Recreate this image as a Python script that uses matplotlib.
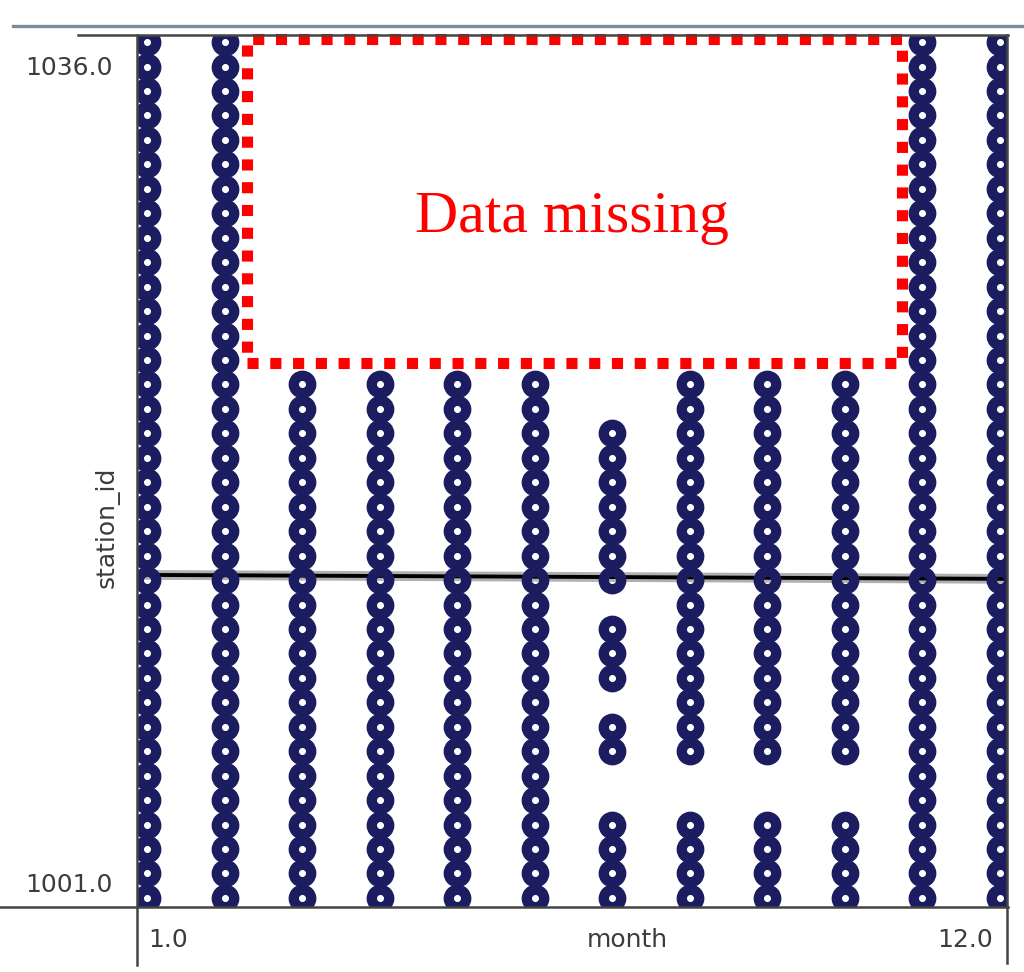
import numpy as np
import matplotlib
matplotlib.use("Agg")
import matplotlib.pyplot as plt
from matplotlib.lines import Line2D
from matplotlib.patches import Rectangle

# months on the x axis and the station runs that have data in each month
months = [1, 2, 3, 4, 5, 6, 7, 8, 9, 10, 11, 12]
station_runs = [
    [(1001, 1036)],
    [(1001, 1036)],
    [(1001, 1022)],
    [(1001, 1022)],
    [(1001, 1022)],
    [(1001, 1022)],
    [(1001, 1004), (1007, 1008), (1010, 1012), (1014, 1020)],
    [(1001, 1004), (1007, 1022)],
    [(1001, 1004), (1007, 1022)],
    [(1001, 1004), (1007, 1022)],
    [(1001, 1036)],
    [(1001, 1036)],
]
# fitted trend line (station_id vs month)
fit_months = [1, 12]
fit_station = [1014.21, 1014.05]
# region with no data
missing_box = {"month": (2.29, 10.74), "station": (1022.86, 1036.12)}
y_tick_labels = ["1036.0", "1001.0"]
x_tick_labels = ["1.0", "12.0"]

W, H = 1024, 972
navy = "#1c1c60"
txt = "#3c3c3c"

fig = plt.figure(figsize=(W / 100, H / 100), dpi=100)
ax = fig.add_axes([137 / W, 1 - 907 / H, (1007 - 137) / W, (907 - 35) / H])
ax.set_xlim(0.871, 12.09)
ax.set_ylim(1000.63, 1036.29)
ax.axis("off")

# trend line with grey halo, under the markers
slope = (fit_station[1] - fit_station[0]) / (fit_months[1] - fit_months[0])
xs = np.array(ax.get_xlim())
ys = fit_station[0] + slope * (xs - fit_months[0])
ax.plot(xs, ys, color="#b0b0b0", lw=7, solid_capstyle="butt", zorder=1)
ax.plot(xs, ys, color="black", lw=2.8, solid_capstyle="butt", zorder=2)

for m, runs in zip(months, station_runs):
    st = []
    for a, b in runs:
        st.extend(range(a, b + 1))
    ax.plot([m] * len(st), st, linestyle="none", marker="o", ms=12.6,
            mfc="none", mec=navy, mew=7.4, zorder=3)

x0, x1 = missing_box["month"]
y0, y1 = missing_box["station"]
ax.add_patch(Rectangle((x0, y0), x1 - x0, y1 - y0, fill=False, edgecolor="#ff0000",
                       lw=8, linestyle=(0, (1.0, 1.05)), zorder=4, clip_on=False))
ax.text((x0 + x1) / 2 - 0.03, 1028.25, "Data missing", color="#ff0000",
        family="Liberation Serif", fontsize=43, ha="center", va="baseline", zorder=5)

# frame lines in pixel positions
def fline(xp, yp, color, lw):
    fig.add_artist(Line2D([x / W for x in xp], [1 - y / H for y in yp],
                          transform=fig.transFigure, color=color, lw=lw))

fline([13, 1024], [26, 26], "#7d8b98", 2.4)
fline([78, 1008], [35, 35], "#444444", 1.8)
fline([0, 1008], [907, 907], "#444444", 1.8)
fline([137, 137], [35, 965], "#444444", 1.8)
fline([1007, 1007], [35, 963], "#444444", 1.8)

def ftext(x, y, s, **kw):
    fig.text(x / W, 1 - y / H, s, color=txt, family="DejaVu Sans", **kw)

ftext(113, 68, y_tick_labels[0], fontsize=18, ha="right", va="center")
ftext(113, 885, y_tick_labels[1], fontsize=18, ha="right", va="center")
ftext(107, 527, "station_id", fontsize=18, ha="center", va="center", rotation=90)
ftext(148, 940, x_tick_labels[0], fontsize=18, ha="left", va="center")
ftext(627, 940, "month", fontsize=18, ha="center", va="center")
ftext(993, 940, x_tick_labels[1], fontsize=18, ha="right", va="center")

fig.savefig("out.png", dpi=100, facecolor="white")
